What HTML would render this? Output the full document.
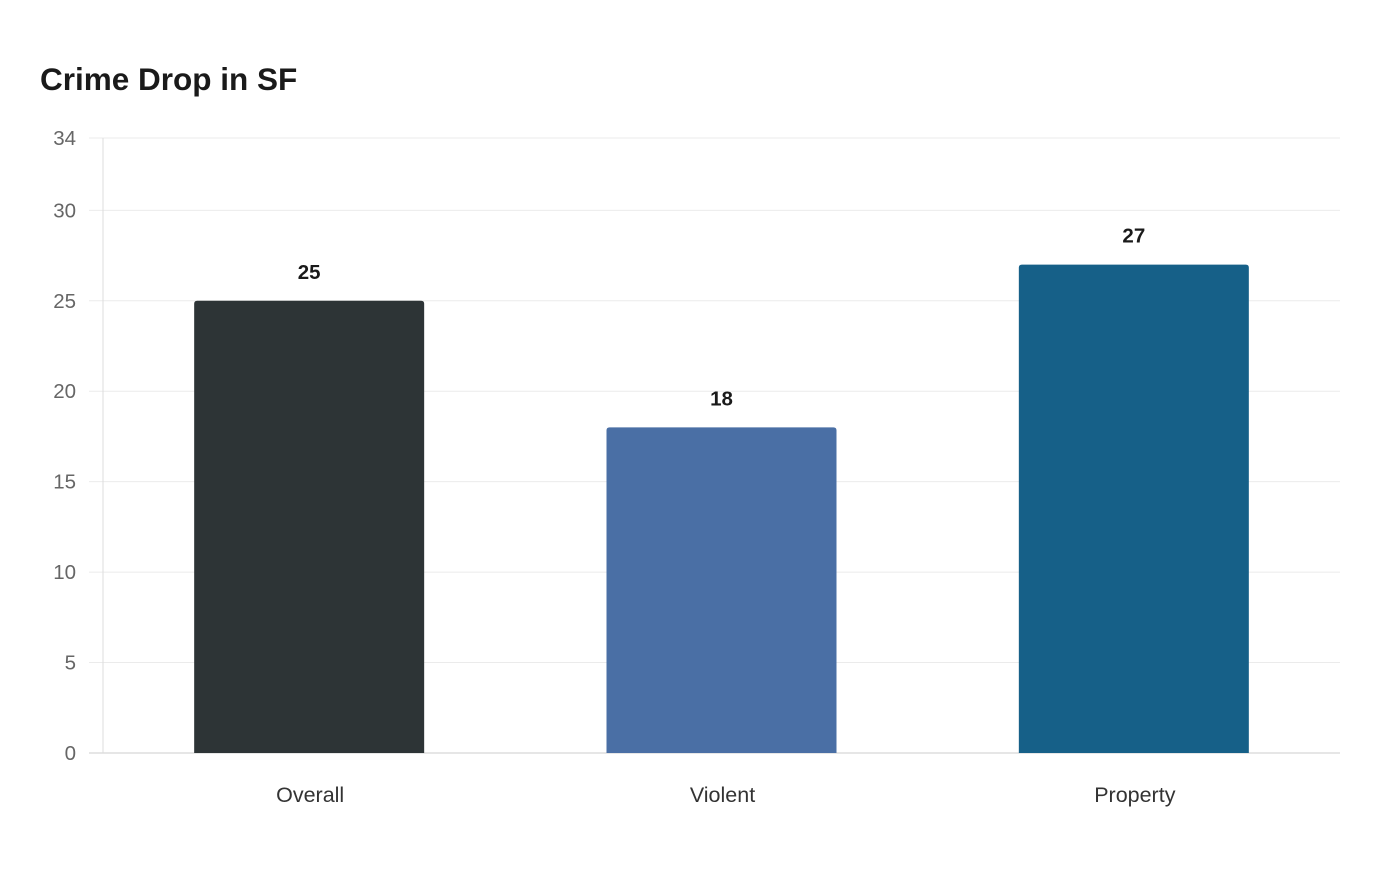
<!DOCTYPE html>
<html><head><meta charset="utf-8">
<style>
body{margin:0;background:#fff;font-family:"Liberation Sans",sans-serif;}
</style></head>
<body>
<svg width="1400" height="880" xmlns="http://www.w3.org/2000/svg">
<text x="40" y="90" font-size="31.5" font-weight="bold" fill="#1a1a1a" font-family="Liberation Sans, sans-serif">Crime Drop in SF</text>
<g id="grid"></g><g id="bars"></g>
</svg>
<script>
const categories=["Overall","Violent","Property"];
const values=[25,18,27];
const colors=["#2d3436","#4a6fa5","#166088"];
const ticks=[0,5,10,15,20,25,30,34];
const x0=103,x1=1340,y0=753,y1=138,ymax=34;
const ns="http://www.w3.org/2000/svg";
const svg=document.querySelector("svg");
const ys=v=>y0-(y0-y1)*v/ymax;
const band=(x1-x0)/categories.length;
const xs=i=>x0+band*(i+0.5);
function mk(t,a,p){const e=document.createElementNS(ns,t);for(const k in a)e.setAttribute(k,a[k]);(p||svg).appendChild(e);return e;}
const g=document.getElementById("grid"),b=document.getElementById("bars");
ticks.forEach(t=>{
 const y=ys(t);
 const l=mk("line",{x1:x0-14,x2:x1,y1:y,y2:y,stroke:t===0?"#ccc":"#ebebeb","stroke-width":1},g);
 
 
 const tx=mk("text",{x:76,y:y+7,"text-anchor":"end","font-size":20.5,fill:"#666","font-family":"Liberation Sans, sans-serif"},g);
 tx.textContent=t;
 
 
});
const ax=mk("line",{x1:x0,x2:x0,y1:y1,y2:y0,stroke:"#ddd","stroke-width":1},g);


const bw=230;
categories.forEach((c,i)=>{
 const cx=xs(i),y=ys(values[i]);
 const r=mk("path",{d:`M${cx-bw/2},${y0} L${cx-bw/2},${y+3} Q${cx-bw/2},${y} ${cx-bw/2+3},${y} L${cx+bw/2-3},${y} Q${cx+bw/2},${y} ${cx+bw/2},${y+3} L${cx+bw/2},${y0} Z`,fill:colors[i]},b);
 
 
 const v=mk("text",{x:cx,y:y-22,"text-anchor":"middle","font-size":20.5,"font-weight":"bold",fill:"#1a1a1a","font-family":"Liberation Sans, sans-serif"},b);
 v.textContent=values[i];
 
 
 const l=mk("text",{x:cx+1,y:802,"text-anchor":"middle","font-size":21.5,fill:"#333","font-family":"Liberation Sans, sans-serif"},b);
 l.textContent=c;
 
 
});
</script>
</body></html>
